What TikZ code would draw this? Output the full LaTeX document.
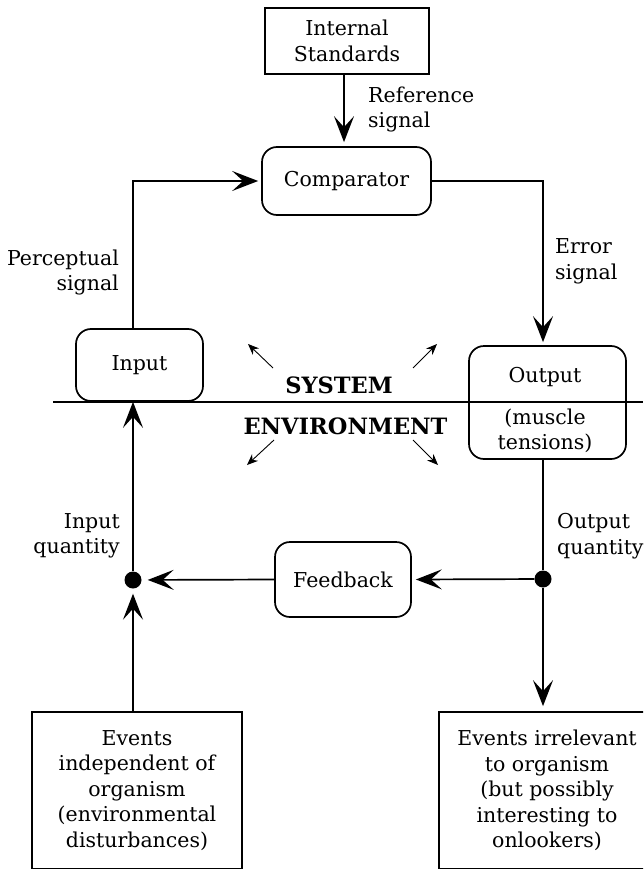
\documentclass[tikz,border=0pt]{standalone}
\usepackage{fontspec}
\setmainfont{DejaVu Serif}
\usetikzlibrary{arrows.meta}
\begin{document}
\begin{tikzpicture}[x=1pt,y=-1pt,
  every node/.style={font=\fontsize{20.5}{25.5}\selectfont, inner sep=0pt},
  sqbox/.style={draw, line width=1.7pt, align=center},
  rbox/.style={draw, line width=1.7pt, rounded corners=15pt, align=center},
  conn/.style={line width=1.7pt},
  arr/.style={conn, -{Stealth[length=26pt,width=20pt,inset=11pt]}},
  sarr/.style={line width=0.9pt, -{Stealth[length=11pt,width=9pt,inset=3.5pt]}},
  dot/.style={circle, fill=black, minimum size=17pt, inner sep=0pt},
  big/.style={font=\fontsize{22.5}{26}\selectfont\bfseries}
]
\useasboundingbox (0,0) rectangle (643,869);
\clip (0,0) rectangle (643,869);

% boxes
\node[sqbox, minimum width=164pt, minimum height=66pt] (intstd) at (347,41) {Internal\\Standards};
\node[rbox, minimum width=169pt, minimum height=68pt] (comp) at (346.5,181) {Comparator};
\node[rbox, minimum width=127pt, minimum height=72pt] (input) at (139.5,365) {Input};
\node[rbox, minimum width=157pt, minimum height=113pt] (output) at (547.5,402.5) {};
\node (outlbl) at (545,377) {Output};
\node[align=center] (muscle) at (545,431) {(muscle\\tensions)};
\node[rbox, minimum width=136pt, minimum height=75pt] (feed) at (343,579.5) {Feedback};
\node[sqbox, minimum width=210pt, minimum height=157pt] (evin) at (137,790.5) {Events\\independent of\\organism\\(environmental\\disturbances)};
\node[sqbox, minimum width=216pt, minimum height=157pt] (evirr) at (547,790.5) {Events irrelevant\\to organism\\(but possibly\\interesting to\\onlookers)};

% dots
\node[dot] (din) at (133,580) {};
\node[dot] (dout) at (543,579) {};

% labels
\node[anchor=west, align=left] (reflbl) at (368,109.5) {Reference\\signal};
\node[anchor=east, align=right] (perclbl) at (119,272.5) {Perceptual\\signal};
\node[anchor=west, align=left] (errlbl) at (555,261.5) {Error\\signal};
\node[anchor=east, align=right] (inqlbl) at (120,536) {Input\\quantity};
\node[anchor=west, align=left] (outqlbl) at (557,536) {Output\\quantity};
\node[big] (system) at (339,385) {SYSTEM};
\node[big] (environment) at (345.5,426) {ENVIRONMENT};

% system/environment line
\coordinate (hl1) at (53,402);
\coordinate (hl2) at (643,402);
\draw[conn] (hl1) -- (hl2);

% connectors
\draw[arr, shorten >=4pt] (intstd.south -| 344,0) -- (comp.north -| 344,0);
\draw[arr, shorten >=3pt] (input.north -| din) |- (comp.west);
\draw[arr, shorten >=3pt] (comp.east) -| (output.north -| dout);
\draw[conn] (output.south -| dout) -- (dout);
\draw[arr, shorten >=5pt] (dout) -- (evirr.north -| dout);
\draw[arr, shorten >=4pt] (dout) -- (feed.east);
\draw[arr, shorten >=6pt] (feed.west) -- (din);
\draw[arr, shorten >=5pt] (evin.north -| din) -- (din);
\draw[arr] (din) -- (input.south -| din);

% small arrows
\coordinate (ula) at (273,368); \coordinate (ulb) at (248,344);
\coordinate (ura) at (413,368); \coordinate (urb) at (437,344);
\coordinate (dla) at (274,440); \coordinate (dlb) at (247,465);
\coordinate (dra) at (413,440); \coordinate (drb) at (438,465);
\draw[sarr] (ula) -- (ulb);
\draw[sarr] (ura) -- (urb);
\draw[sarr] (dla) -- (dlb);
\draw[sarr] (dra) -- (drb);
\end{tikzpicture}
\end{document}
